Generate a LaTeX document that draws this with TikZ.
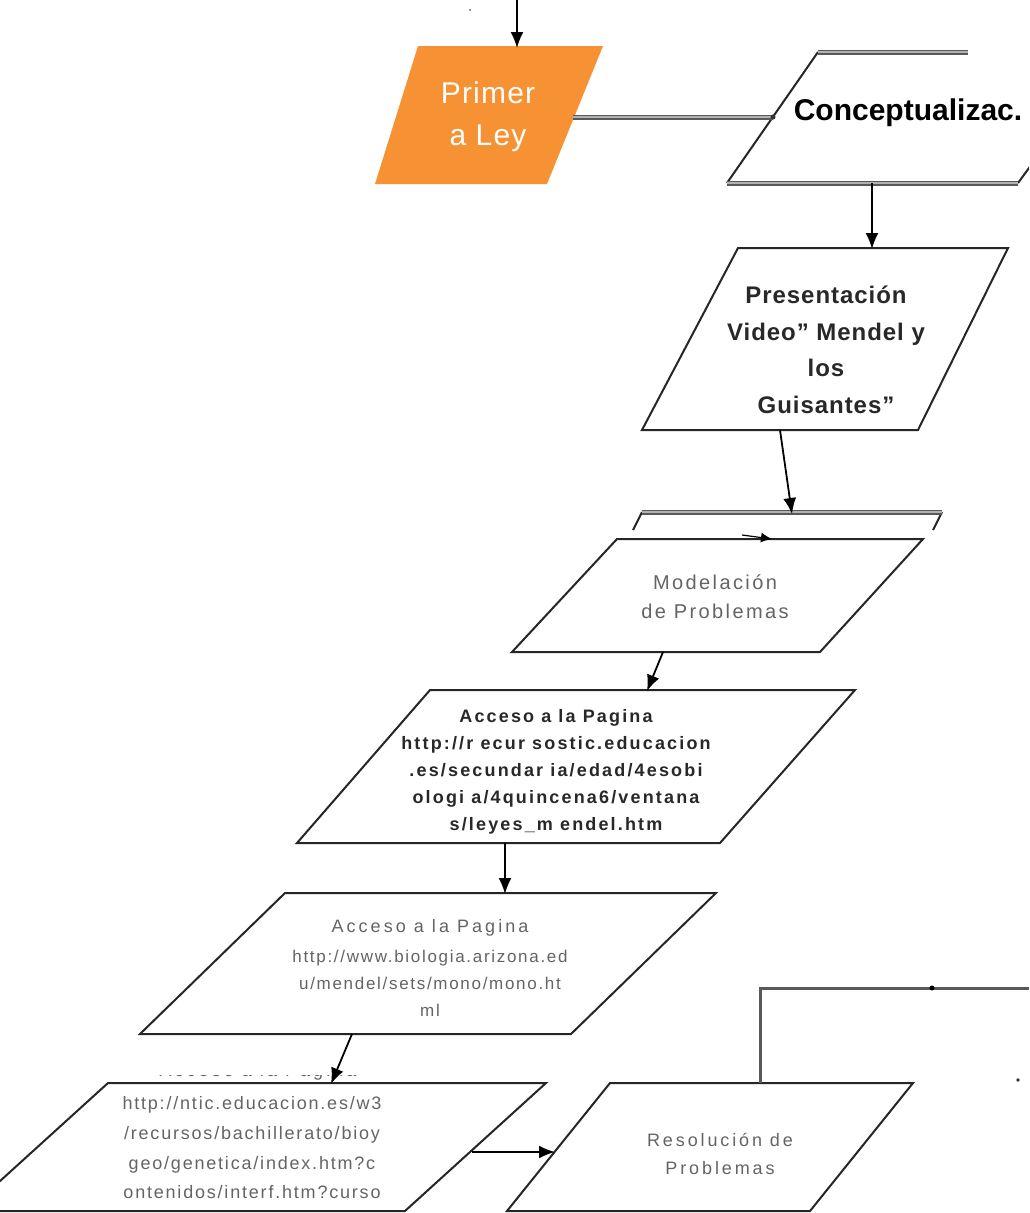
\documentclass[tikz,border=0pt]{standalone}
\usepackage{fontspec}
\setmainfont{Liberation Sans}
\usetikzlibrary{arrows.meta}
\definecolor{orangebox}{RGB}{247,146,52}
\definecolor{txtdark}{RGB}{40,40,40}
\definecolor{txtgray}{RGB}{100,100,100}
\begin{document}
\begin{tikzpicture}[x=1pt,y=-1pt,
  box/.style={draw=black!85,line width=2pt,fill=white,line join=miter},
  edgethin/.style={draw=black!85,line width=2pt},
  edgegray/.style={draw=black!65,double=black!30,double distance=2.4pt,line width=1.3pt},
  arr/.style={draw=black,line width=1.8pt,-{Latex[length=16pt,width=13pt]}},
  lbl/.style={inner sep=0pt,align=center}]
\useasboundingbox (0,0) rectangle (1029,1213);
\clip (0,0) rectangle (1029,1213);
\fill[white] (0,0) rectangle (1029,1213);

% ---------- Primera Ley ----------
\fill[orangebox] (418,46) -- (603,46) -- (547,184) -- (375,184) -- cycle;
\node[lbl,text=white,font={\fontsize{30}{42}\selectfont\addfontfeatures{LetterSpace=4}}] (primer) at (488,117) {Primer\\a Ley};
\coordinate (topin) at (517,0);
\coordinate (primer-top) at (517,48);
\draw[arr] (topin) -- (primer-top);
\fill[black!50] (470,10) circle (1.2pt);

% ---------- Conceptualizacion ----------
\draw[edgethin] (818,52) -- (727,183);
\draw[edgethin] (1018,183) -- (1062,123);
\draw[edgegray] (818,52) -- (968,52);
\draw[edgegray] (727,183) -- (1018,183);
\node[lbl,text=black,font={\fontsize{30}{36}\selectfont\bfseries}] (concept) at (908,113) {Conceptualizac.};
\coordinate (primer-r) at (573,117);
\coordinate (concept-l) at (773,117);
\draw[edgegray] (primer-r) -- (concept-l);
\fill[black!80] (concept-l) circle (2.5pt);

% ---------- Presentacion ----------
\draw[box] (738,248) -- (1008,248) -- (918,430) -- (642,430) -- cycle;
\node[lbl,text=txtdark,font={\fontsize{24}{36.5}\selectfont\bfseries\addfontfeatures{LetterSpace=4}}] (pres) at (826,350)
  {Presentación\\Video” Mendel y\\los\\Guisantes”};
\coordinate (concept-b) at (872,183);
\coordinate (pres-t) at (872,249);
\draw[arr] (concept-b) -- (pres-t);

% ---------- Modelacion ----------
\draw[edgethin] (633,530) -- (642,512);
\draw[edgethin] (942,512) -- (933,530);
\draw[edgegray] (642,512) -- (942,512);
\draw[box] (617,539) -- (923,539) -- (820,652) -- (512,652) -- cycle;
\node[lbl,text=txtgray,font={\fontsize{20}{29}\selectfont\addfontfeatures{LetterSpace=12}}] (model) at (715,597)
  {Modelación\\de Problemas};
\coordinate (pres-b) at (780,430);
\coordinate (bar-t) at (792,514);
\draw[arr] (pres-b) -- (bar-t);
\coordinate (mini-a) at (742,535);
\coordinate (mini-b) at (772,539);
\draw[draw=black,line width=1.2pt,-{Latex[length=11pt,width=10pt]}] (mini-a) -- (mini-b);

% ---------- Acceso a la Pagina (recursostic) ----------
\draw[box] (430,690) -- (855,690) -- (720,843) -- (297,843) -- cycle;
\node[lbl,text=txtdark,font={\fontsize{18}{27}\selectfont\bfseries\addfontfeatures{LetterSpace=12}}] (acc1) at (556,772)
  {Acceso a la Pagina\\http://r ecur sostic.educacion\\.es/secundar ia/edad/4esobi\\ologi a/4quincena6/ventana\\s/leyes\_m endel.htm};
\coordinate (model-b) at (663,652);
\coordinate (acc1-t) at (647,691);
\draw[arr] (model-b) -- (acc1-t);

% ---------- Acceso a la Pagina (biologia.arizona) ----------
\draw[box] (285,893) -- (716,893) -- (571,1034) -- (140,1034) -- cycle;
\node[lbl,text=txtgray,font={\fontsize{18}{27}\selectfont\addfontfeatures{LetterSpace=17}}] (acc2h) at (430,928) {Acceso a la Pagina};
\node[lbl,text=txtgray,font={\fontsize{17}{27}\selectfont\addfontfeatures{LetterSpace=10}}] (acc2) at (430,983)
  {http://www.biologia.arizona.ed\\u/mendel/sets/mono/mono.ht\\ml};
\coordinate (acc1-b) at (505,843);
\coordinate (acc2-t) at (505,894);
\draw[arr] (acc1-b) -- (acc2-t);

% ---------- Acceso a la Pagina (ntic) ----------
\begin{scope}
  \clip (100,1075) rectangle (560,1082);
  \node[lbl,text=txtgray,font={\fontsize{18}{27}\selectfont\addfontfeatures{LetterSpace=17}}] (acc3h) at (258,1072) {Acceso a la Pagina};
\end{scope}
\draw[box] (108,1083) -- (546,1083) -- (405,1211) -- (-33,1211) -- cycle;
\node[lbl,text=txtgray,font={\fontsize{18}{29.7}\selectfont\addfontfeatures{LetterSpace=10}}] (acc3) at (252,1148)
  {http://ntic.educacion.es/w3\\/recursos/bachillerato/bioy\\geo/genetica/index.htm?c\\ontenidos/interf.htm?curso};
\coordinate (acc2-b) at (352,1034);
\coordinate (acc3-t) at (331,1084);
\draw[arr] (acc2-b) -- (acc3-t);

% ---------- Resolucion de Problemas ----------
\draw[box] (610,1083) -- (913,1083) -- (810,1211) -- (507,1211) -- cycle;
\node[lbl,text=txtgray,font={\fontsize{18}{28}\selectfont\addfontfeatures{LetterSpace=16}}] (resol) at (720,1154)
  {Resolución de\\Problemas};
\coordinate (acc3-r) at (472,1152);
\coordinate (resol-l) at (555,1152);
\draw[arr] (acc3-r) -- (resol-l);
\coordinate (resol-t) at (760,1083);
\coordinate (bend) at (760,988);
\coordinate (outr) at (1029,988);
\draw[draw=black!65,line width=3pt] (resol-t) -- (bend) -- (outr);
\fill[black] (932,988) circle (2.5pt);
\fill[black!80] (1018,1080) circle (1.8pt);
\end{tikzpicture}
\end{document}
